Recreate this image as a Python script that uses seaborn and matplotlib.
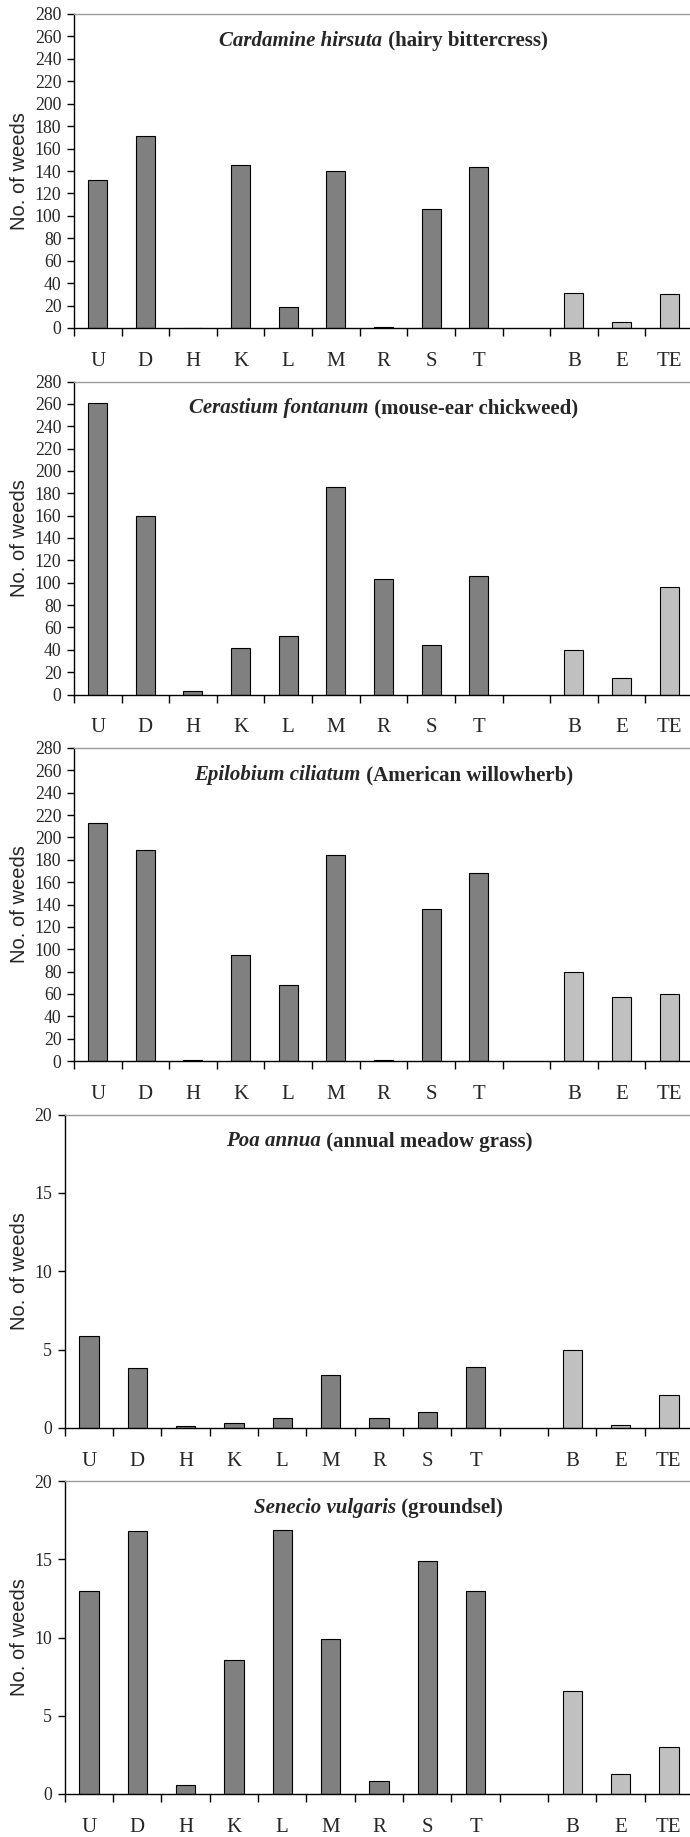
import matplotlib
matplotlib.use("Agg")
import matplotlib.pyplot as plt
import seaborn as sns
import pandas as pd
import numpy as np
from matplotlib.offsetbox import TextArea, HPacker, AnchoredOffsetbox

# site codes, blank slot separates the two groups
SITES = ["U", "D", "H", "K", "L", "M", "R", "S", "T", "B", "E", "TE"]
ORDER = ["U", "D", "H", "K", "L", "M", "R", "S", "T", " ", "B", "E", "TE"]
GROUP = ["main"] * 9 + ["extra"] * 3

cardamine = [132, 171, 0, 145, 19, 140, 1, 106, 144, 31, 5, 30]
cerastium = [261, 160, 3, 42, 52, 186, 103, 44, 106, 40, 15, 96]
epilobium = [213, 189, 1, 95, 68, 184, 1, 136, 168, 80, 57, 60]
poa = [5.9, 3.8, 0.1, 0.35, 0.65, 3.35, 0.65, 1.0, 3.9, 5.0, 0.2, 2.1]
senecio = [13.0, 16.8, 0.55, 8.55, 16.9, 9.9, 0.85, 14.9, 13.0, 6.55, 1.3, 3.0]

SPECIES = ["Cardamine hirsuta", "Cerastium fontanum", "Epilobium ciliatum",
           "Poa annua", "Senecio vulgaris"]
COMMON = [" (hairy bittercress)", " (mouse-ear chickweed)", " (American willowherb)",
          " (annual meadow grass)", " (groundsel)"]
VALUES = [cardamine, cerastium, epilobium, poa, senecio]
YMAX = [280, 280, 280, 20, 20]
YSTEP = [20, 20, 20, 5, 5]

PALETTE = {"main": "#808080", "extra": "#c0c0c0"}

W, H = 690, 1837
# (left, top, bottom) in pixels for each panel
BOXES = [(73.9, 14, 328), (73.9, 381.5, 694.5), (73.9, 748, 1061),
         (64.7, 1114.5, 1428), (64.7, 1481, 1794)]
RIGHT = 693

sns.set_style("ticks")
plt.rcParams["font.family"] = ["Liberation Serif", "DejaVu Serif"]

fig = plt.figure(figsize=(W / 100, H / 100), dpi=100)

for i, (vals, box) in enumerate(zip(VALUES, BOXES)):
    left, top, bottom = box
    ax = fig.add_axes([left / W, 1 - bottom / H, (RIGHT - left) / W, (bottom - top) / H])
    df = pd.DataFrame({"site": SITES, "n": vals, "group": GROUP})
    sns.barplot(data=df, x="site", y="n", hue="group", order=ORDER, palette=PALETTE,
                dodge=False, width=0.4, edgecolor="black", linewidth=0.8,
                legend=False, ax=ax)

    ax.set_xlim(-0.5, 12.5)
    ax.set_ylim(0, YMAX[i])
    ax.set_yticks(np.arange(0, YMAX[i] + 1, YSTEP[i]))
    ax.tick_params(axis="y", direction="out", length=5, width=1, pad=4, labelsize=12.8,
                   color="black")
    ax.set_xticks(np.arange(-0.5, 13, 1), minor=True)
    ax.tick_params(axis="x", which="minor", direction="out", length=6, width=1, color="black")
    ax.tick_params(axis="x", which="major", length=0, pad=17, labelsize=15)

    ax.set_xlabel("")
    ax.set_ylabel("No. of weeds", family="Liberation Sans", fontsize=14.5)
    ax.yaxis.set_label_coords((29 - left) / (RIGHT - left), 0.5)

    for s in ["left", "bottom"]:
        ax.spines[s].set_color("black")
        ax.spines[s].set_linewidth(1)
    ax.spines["top"].set_color("#999999")
    ax.spines["top"].set_linewidth(1)
    ax.spines["right"].set_visible(False)

    t1 = TextArea(SPECIES[i], textprops=dict(fontstyle="italic", fontweight="bold", fontsize=15))
    t2 = TextArea(COMMON[i], textprops=dict(fontweight="bold", fontsize=15))
    pack = HPacker(children=[t1, t2], pad=0, sep=0, align="baseline")
    anch = AnchoredOffsetbox(loc="center", child=pack, frameon=False, pad=0, borderpad=0,
                             bbox_to_anchor=(0.5, 1 - 27 / (bottom - top)),
                             bbox_transform=ax.transAxes)
    ax.add_artist(anch)

fig.savefig("out.png", dpi=100)
